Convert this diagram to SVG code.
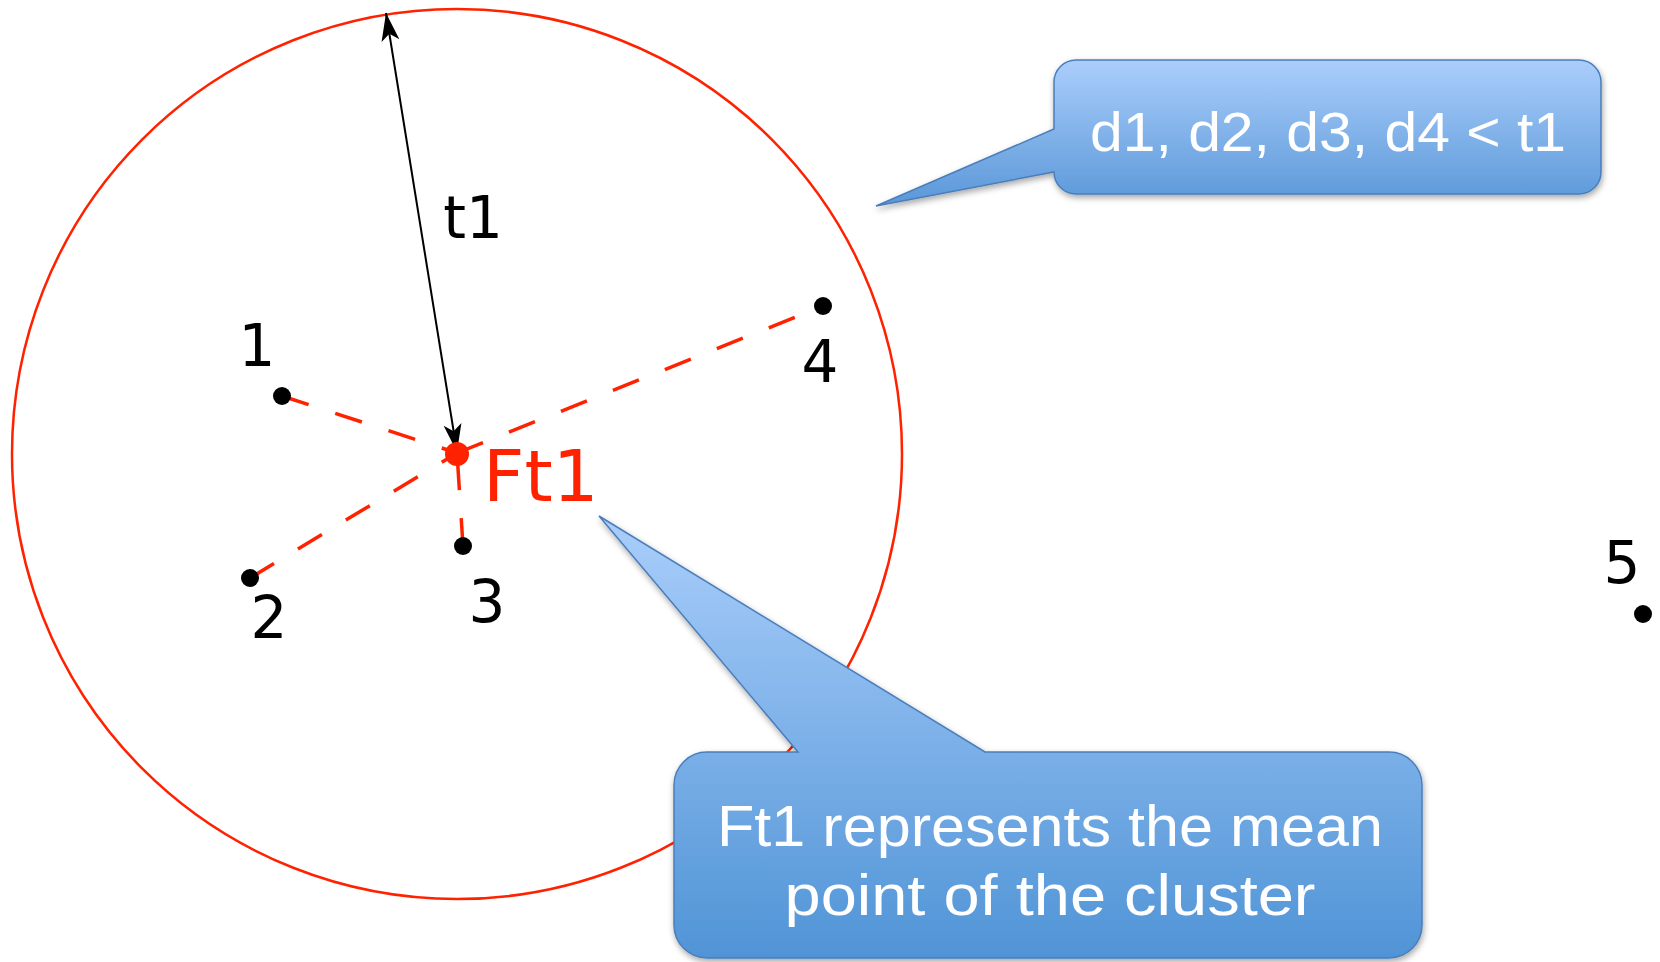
<svg xmlns="http://www.w3.org/2000/svg" width="1660" height="962" viewBox="0 0 1660 962">
<style>
.lbl{font-family:"DejaVu Sans",sans-serif;font-size:58px;fill:#000;text-anchor:middle}
.dash{stroke:#ff2200;stroke-width:3.5;stroke-dasharray:28 28;fill:none}
.dot{fill:#000}
.call{stroke:#4a7ebb;stroke-width:1.5;filter:url(#sh)}
.ct{font-family:"Liberation Sans","Open Sans",sans-serif;fill:#fff;text-anchor:middle}
</style>
<defs>
<linearGradient id="g1" gradientUnits="userSpaceOnUse" x1="0" y1="60" x2="0" y2="206">
<stop offset="0" stop-color="#aacefb"/><stop offset="1" stop-color="#5a97d8"/>
</linearGradient>
<linearGradient id="g2" gradientUnits="userSpaceOnUse" x1="0" y1="516" x2="0" y2="958">
<stop offset="0" stop-color="#aacefb"/><stop offset="1" stop-color="#5094d6"/>
</linearGradient>
<filter id="sh" x="-10%" y="-10%" width="120%" height="130%">
<feDropShadow dx="1" dy="3" stdDeviation="3" flood-color="#000" flood-opacity="0.35"/>
</filter>
<marker id="ah" viewBox="-30 -10 32 20" refX="0" refY="0" markerWidth="32" markerHeight="20" markerUnits="userSpaceOnUse" orient="auto-start-reverse">
<path d="M0,0 L-28,-9 L-21,0 L-28,9 Z" fill="#000"/>
</marker>
</defs>

<g id="cluster-circle">
<circle cx="457" cy="454" r="445" fill="none" stroke="#ff2200" stroke-width="2.5"/>
</g>

<g id="connectors">
<line class="dash" x1="282" y1="396" x2="457" y2="453"/>
<line class="dash" x1="250" y1="578" x2="457" y2="453"/>
<line class="dash" x1="463" y1="546" x2="457" y2="453"/>
<line class="dash" x1="457" y1="453" x2="823" y2="306"/>
<line x1="386" y1="13" x2="457" y2="452" stroke="#000" stroke-width="2" marker-start="url(#ah)" marker-end="url(#ah)"/>
</g>

<g id="label-t1"><text class="lbl" x="473" y="238" font-size="57">t1</text></g>

<g id="Ft1">
<circle cx="457" cy="454" r="12" fill="#ff2200"/>
<text x="483" y="501" font-family="DejaVu Sans,sans-serif" font-size="72" fill="#ff2200">Ft1</text>
</g>

<g id="p1"><circle class="dot" cx="282" cy="396" r="9"/><text class="lbl" x="257" y="366">1</text></g>
<g id="p2"><circle class="dot" cx="250" cy="578" r="9"/><text class="lbl" x="269" y="638">2</text></g>
<g id="p3"><circle class="dot" cx="463" cy="546" r="9"/><text class="lbl" x="487" y="622">3</text></g>
<g id="p4"><circle class="dot" cx="823" cy="306" r="9"/><text class="lbl" x="820" y="382">4</text></g>
<g id="p5"><circle class="dot" cx="1643" cy="614" r="9"/><text class="lbl" x="1622" y="583">5</text></g>

<g id="callout-distances">
<path class="call" fill="url(#g1)" d="M1076,60 H1579 A22,22 0 0 1 1601,82 V172 A22,22 0 0 1 1579,194 H1076 A22,22 0 0 1 1054,172 L876,206 L1054,129 V82 A22,22 0 0 1 1076,60 Z"/>
<text class="ct" x="1328" y="151" font-size="56" textLength="476" lengthAdjust="spacingAndGlyphs">d1, d2, d3, d4 &lt; t1</text>
</g>

<g id="callout-mean">
<path class="call" fill="url(#g2)" d="M707,752 H798 L599,516 L985,752 H1389 A33,33 0 0 1 1422,785 V925 A33,33 0 0 1 1389,958 H707 A33,33 0 0 1 674,925 V785 A33,33 0 0 1 707,752 Z"/>
<text class="ct" x="1050" y="846" font-size="58" textLength="666" lengthAdjust="spacingAndGlyphs">Ft1 represents the mean</text>
<text class="ct" x="1050" y="915" font-size="58" textLength="531" lengthAdjust="spacingAndGlyphs">point of the cluster</text>
</g>
</svg>
